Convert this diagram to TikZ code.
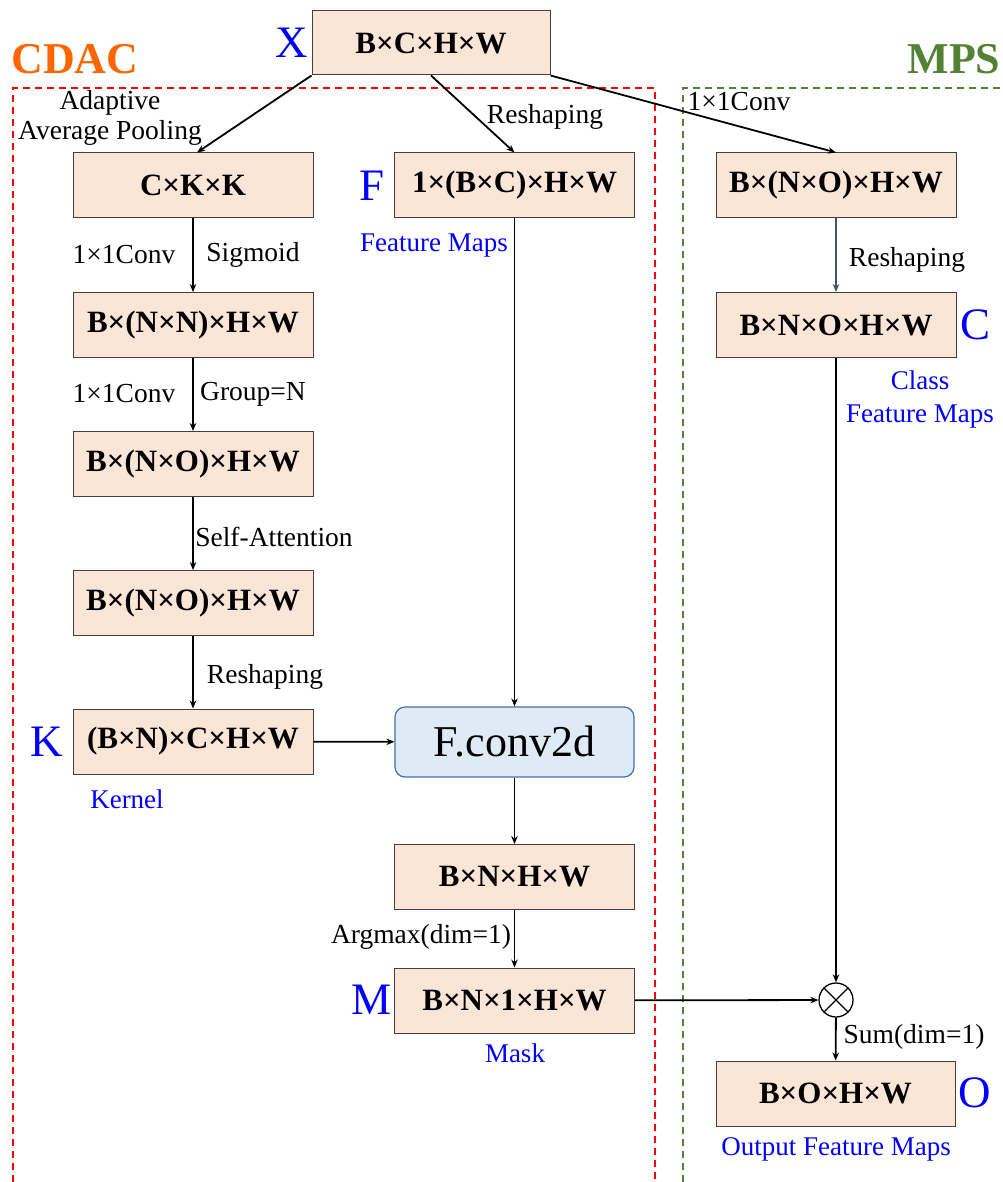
\documentclass[tikz,border=0pt]{standalone}
\usepackage{fontspec}
\setmainfont{Liberation Serif}
\usetikzlibrary{arrows.meta,calc}
\definecolor{boxfill}{RGB}{251,229,214}
\definecolor{convfill}{RGB}{222,234,246}
\definecolor{convdraw}{RGB}{65,113,170}
\definecolor{cdacorange}{RGB}{255,102,0}
\definecolor{mpsgreen}{RGB}{84,130,53}
\definecolor{slate}{RGB}{68,84,106}
\definecolor{labblue}{RGB}{0,0,255}
\tikzset{
  shapebox/.style={draw=black!75, line width=1pt, fill=boxfill, minimum width=240pt, minimum height=65pt, inner sep=0pt, font=\rmfamily\bfseries\fontsize{31}{34}\selectfont},
  lab/.style={inner sep=0pt, font=\rmfamily\fontsize{27.5}{31}\selectfont},
  bluelab/.style={inner sep=0pt, text=labblue, font=\rmfamily\fontsize{27}{33}\selectfont, align=center},
  bigletter/.style={inner sep=0pt, text=labblue, font=\rmfamily\fontsize{45}{45}\selectfont},
  arr/.style={line width=1.8pt, -{Stealth[length=8pt,width=6.5pt]}},
  reddash/.style={draw=red, line width=1.5pt, dash pattern=on 7pt off 5pt},
  greendash/.style={draw=mpsgreen, line width=1.5pt, dash pattern=on 7pt off 5pt}
}
\begin{document}
\begin{tikzpicture}[x=1pt,y=-1pt]
\useasboundingbox[fill=white] (0,0) rectangle (1002,1182);
% dashed regions
\draw[reddash] (13,1182) -- (13,88) -- (655,88) -- (655,1182);
\draw[greendash] (683,1182) -- (683,88) -- (1002,88);
\node[inner sep=0pt, text=cdacorange, font=\rmfamily\bfseries\fontsize{44}{44}\selectfont] (cdac) at (75,59) {CDAC};
\node[inner sep=0pt, text=mpsgreen, font=\rmfamily\bfseries\fontsize{44}{44}\selectfont] (mps) at (954,59) {MPS};
% boxes
\node[shapebox, minimum width=238pt, minimum height=64pt] (x) at (431,43) {B×C×H×W};
\node[shapebox] (ckk) at (193,185.5) {C×K×K};
\node[shapebox] (f) at (514.5,185.5) {1×(B×C)×H×W};
\node[shapebox] (r1) at (836,185.5) {B×(N×O)×H×W};
\node[shapebox] (nn) at (193,325) {B×(N×N)×H×W};
\node[shapebox] (r2) at (836,325) {B×N×O×H×W};
\node[shapebox] (no1) at (193,464) {B×(N×O)×H×W};
\node[shapebox] (no2) at (193,603) {B×(N×O)×H×W};
\node[shapebox] (k) at (193,741.5) {(B×N)×C×H×W};
\node[draw=convdraw, line width=1.2pt, fill=convfill, rounded corners=10pt, minimum width=239pt, minimum height=70pt, inner sep=0pt, font=\rmfamily\fontsize{44}{44}\selectfont] (conv) at (514.5,742) {F.conv2d};
\node[shapebox] (bnhw) at (514.5,877) {B×N×H×W};
\node[shapebox] (m) at (514.5,1000.5) {B×N×1×H×W};
\node[shapebox, minimum width=239pt] (o) at (835.5,1093.5) {B×O×H×W};
\node[draw, circle, line width=1.3pt, minimum size=34pt, inner sep=0pt] (ot) at (836,1000) {};
\draw[line width=1.3pt] (ot.north west) -- (ot.south east) (ot.north east) -- (ot.south west);
% big letters
\node[bigletter] (lx) at (292,43) {X};
\node[bigletter] (lf) at (372,186) {F};
\node[bigletter] (lk) at (47,742) {K};
\node[bigletter] (lm) at (372,1000) {M};
\node[bigletter] (lc) at (975,325) {C};
\node[bigletter] (lo) at (975,1093) {O};
% blue labels
\node[bluelab] (fm) at (434,246) {Feature Maps};
\node[bluelab] (kern) at (127,799) {Kernel};
\node[bluelab] (mask) at (515,1053) {Mask};
\node[bluelab] (cfm) at (920,400) {Class\\Feature Maps};
\node[bluelab] (ofm) at (836,1149) {Output Feature Maps};
% arrow labels
\node[lab, align=center] (aap) at (110,118) {Adaptive\\[-1pt]Average Pooling};
\node[lab] (l1) at (545,117) {Reshaping};
\node[lab] (l2) at (739,102) {1×1Conv};
\node[lab] (l3) at (124,255) {1×1Conv};
\node[lab] (l4) at (253,255) {Sigmoid};
\node[lab] (l5) at (124,394) {1×1Conv};
\node[lab] (l6) at (253,394) {Group=N};
\node[lab] (l7) at (274,537) {Self-Attention};
\node[lab] (l8) at (265,677) {Reshaping};
\node[lab] (l9) at (907,260) {Reshaping};
\node[lab] (l10) at (421,937) {Argmax(dim=1)};
\node[lab] (l11) at (914,1037) {Sum(dim=1)};
% connectors
\draw[arr] (x.south west) -- ($(ckk.north)+(4,0)$);
\draw[arr] (x.south) -- (f.north);
\draw[arr] (x.south east) -- (r1.north);
\draw[arr] (ckk) -- (nn);
\draw[arr] (nn) -- (no1);
\draw[arr] (no1) -- (no2);
\draw[arr] (no2) -- (k);
\draw[arr] (k) -- (conv);
\draw[arr] (f) -- (conv);
\draw[arr] (conv) -- (bnhw);
\draw[arr] (bnhw) -- (m);
\draw[arr] (m) -- (ot);
\draw[arr, draw=slate, fill=slate] (r1) -- (r2);
\draw[arr] (r2) -- (ot);
\draw[arr] (ot) -- (o);
\end{tikzpicture}
\end{document}
